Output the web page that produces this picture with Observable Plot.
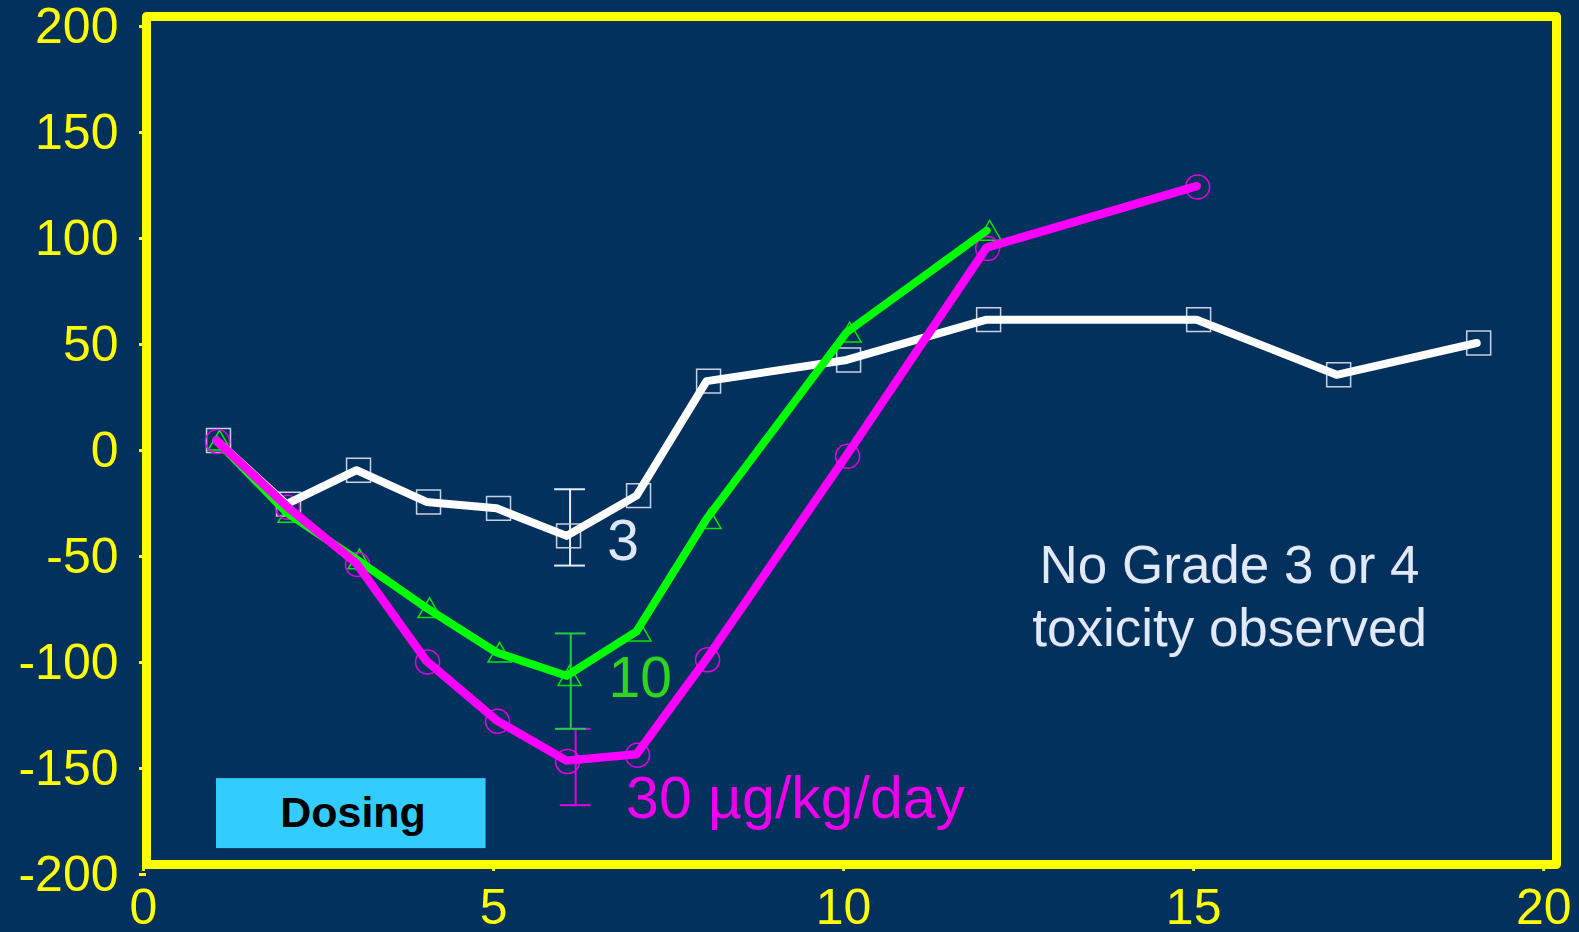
<!DOCTYPE html>
<html><head><meta charset="utf-8">
<script src="https://cdn.jsdelivr.net/npm/d3@7"></script>
<script src="https://cdn.jsdelivr.net/npm/@observablehq/plot@0.6"></script>
<style>html,body{margin:0;padding:0;background:#02315e;overflow:hidden}</style>
</head><body><div id="chart"></div>
<script>
// Series: day vs. % change
const days3 = [1,2,3,4,5,6,7,8,10,12,15,17,19];
const values3 = [0,-30,-14,-29,-32,-45,-26,28,38,57,57,31,46];
const days10 = [1,2,3,4,5,6,7,8,10,12];
const values10 = [0,-34,-56,-79,-100,-111,-90,-37,51,99];
const days30 = [1,2,3,4,5,6,7,8,10,12,15];
const values30 = [0,-31,-58,-104,-132,-151,-148,-103,-7,91,120];

// Error bars at day 6
const errSeries = ["3","10","30"];
const errDays = [6.05,6.06,6.13];
const errLow = [-59,-136,-172];
const errHigh = [-23,-91,-136];

const xTicks = [0,5,10,15,20];
const yTicks = [-200,-150,-100,-50,0,50,100,150,200];

const labelTexts = ["3","10","30 µg/kg/day"];
const labelX = [6.58,6.6,6.85];
const labelY = [-56.5,-121,-178];

const noteLines = ["No Grade 3 or 4","toxicity observed"];
const noteX = [15.47,15.47];
const noteY = [-67,-97];

const dosingBox = [{x1:1.0, x2:4.85, y1:-159.5, y2:-192.5, label:"Dosing", lx:2.95, ly:-182.5}];

const colors = {"3":"#ffffff","10":"#00ff00","30":"#ff00ff"};
const markColors = {"3":"#c9d1e2","10":"#00e600","30":"#e600e6"};
const errColors = {"3":"#e6ecf8","10":"#22cc44","30":"#e000e0"};
const labelColors = ["#dfe6f7","#30d61c","#ee00ee"];

const s3 = days3.map((d,i)=>({day:d, value:values3[i]}));
const s10 = days10.map((d,i)=>({day:d, value:values10[i]}));
const s30 = days30.map((d,i)=>({day:d, value:values30[i]}));
const errs = errSeries.map((s,i)=>({series:s, day:errDays[i], lo:errLow[i], hi:errHigh[i]}));
const capHalf = 0.22;
const labels = labelTexts.map((t,i)=>({text:t, x:labelX[i], y:labelY[i], color:labelColors[i], size: i === 2 ? 59 : 57}));
const notes = noteLines.map((t,i)=>({text:t, x:noteX[i], y:noteY[i]}));

const chart = Plot.plot({
  width: 1579, height: 932,
  marginLeft: 146, marginRight: 23, marginTop: 16, marginBottom: 68,
  x: {domain: [0,20.14]},
  y: {domain: [-200,200]},
  style: {background: "#02315e", fontFamily: "'Liberation Sans', Arial, sans-serif", overflow: "visible"},
  marks: [
    Plot.rect(dosingBox, {x1:"x1", x2:"x2", y1:"y1", y2:"y2", fill:"#33ccff"}),
    Plot.text(dosingBox, {x:"lx", y:"ly", text:"label", fill:"#000", fontSize:43, fontWeight:"bold", lineAnchor:"bottom"}),
    // error bars
    Plot.ruleX(errs, {x:"day", y1:"lo", y2:"hi", stroke: d=>errColors[d.series], strokeWidth:2}),
    Plot.ruleY(errs, {y:"hi", x1: d=>d.day-capHalf, x2: d=>d.day+capHalf, stroke: d=>errColors[d.series], strokeWidth:2}),
    Plot.ruleY(errs, {y:"lo", x1: d=>d.day-capHalf, x2: d=>d.day+capHalf, stroke: d=>errColors[d.series], strokeWidth:2}),
    // markers
    Plot.dot(s3, {x:"day", y:"value", symbol:"square", r:13.5, stroke:markColors["3"], strokeWidth:1.5, fill:"none", dx:2}),
    Plot.dot(s10, {x:"day", y:"value", symbol:"triangle", r:8.5, stroke:markColors["10"], strokeWidth:1.5, fill:"none", dx:3, dy:3}),
    Plot.dot(s30, {x:"day", y:"value", symbol:"circle", r:12, stroke:markColors["30"], strokeWidth:1.5, fill:"none", dx:1, dy:1}),
    // lines
    Plot.line(s3, {x:"day", y:"value", stroke:colors["3"], strokeWidth:8, strokeLinejoin:"round", strokeLinecap:"round"}),
    Plot.line(s10, {x:"day", y:"value", stroke:colors["10"], strokeWidth:8, strokeLinejoin:"round", strokeLinecap:"round"}),
    Plot.line(s30, {x:"day", y:"value", stroke:colors["30"], strokeWidth:8.5, strokeLinejoin:"round", strokeLinecap:"round"}),
    // labels
    Plot.text(labels, {x:"x", y:"y", text:"text", fill:"color", fontSize:"size", textAnchor:"start", lineAnchor:"bottom"}),
    Plot.text(notes, {x:"x", y:"y", text:"text", fill:"#e2e8f8", fontSize:53, textAnchor:"middle", lineAnchor:"bottom"}),
    // axes
    Plot.axisX({ticks:xTicks, tickFormat:d=>String(d), tickSize:7, tickPadding:17, stroke:"#ffff00", strokeWidth:3, fill:"#ffff00", fontSize:50, dx:-3, label:null}),
    Plot.axisY({ticks:yTicks, tickFormat:d=>String(d), tickSize:7, tickPadding:21, stroke:"#ffff00", strokeWidth:3, fill:"#ffff00", fontSize:50, dy:10, label:null}),
    Plot.frame({stroke:"#ffff00", strokeWidth:9, strokeLinejoin:"round"})
  ]
});
document.getElementById("chart").appendChild(chart);
</script>
</body></html>
